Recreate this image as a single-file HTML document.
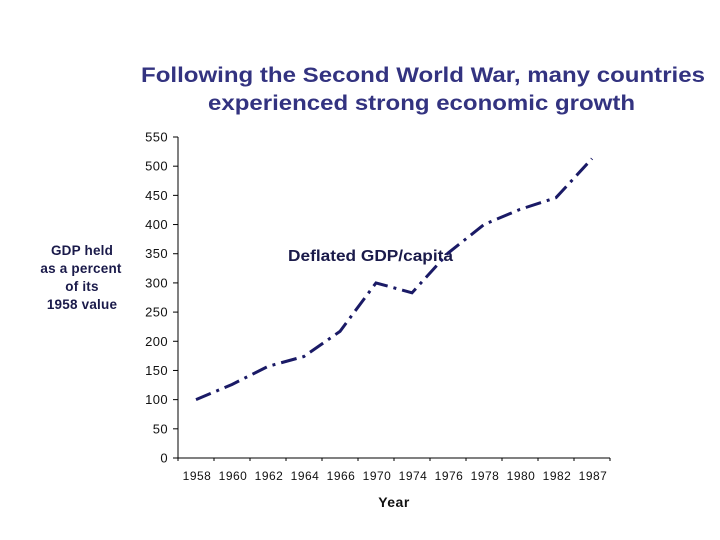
<!DOCTYPE html>
<html><head><meta charset="utf-8"><style>
html,body{margin:0;padding:0;background:#fff;}
svg{display:block;font-family:"Liberation Sans",Arial,sans-serif;}
</style></head><body>
<svg id="chart" width="720" height="540" viewBox="0 0 720 540">
<text x="141" y="82" textLength="564" lengthAdjust="spacingAndGlyphs" font-size="21" font-weight="bold" fill="#333380">Following the Second World War, many countries</text>
<text x="208" y="110" textLength="427" lengthAdjust="spacingAndGlyphs" font-size="21" font-weight="bold" fill="#333380">experienced strong economic growth</text>
<g fill="#1a1a4a" font-size="13.5" font-weight="bold" text-anchor="middle" letter-spacing="0.2">
<text x="82" y="255">GDP held</text><text x="81" y="273">as a percent</text><text x="82" y="291">of its</text><text x="82" y="309">1958 value</text>
</g>
<text x="394" y="507" text-anchor="middle" font-size="14" font-weight="bold" fill="#111" letter-spacing="0.5">Year</text>
<text x="288" y="261" textLength="165" lengthAdjust="spacingAndGlyphs" font-size="15.5" font-weight="bold" fill="#1a1a4a">Deflated GDP/capita</text>
<g id="axes"></g>
<g id="marks"></g>
</svg>
<script>
const categories = ["1958","1960","1962","1964","1966","1970","1974","1976","1978","1980","1982","1987"];
const gdpValues = [100,126,157,174,217,300,283,351,400,426,446,513];
const yTicks = [0,50,100,150,200,250,300,350,400,450,500,550];
const NS = "http://www.w3.org/2000/svg";
const x0 = 178, x1 = 610, yTop = 137, yBot = 458, yMax = 550;
const band = (x1 - x0) / categories.length;
function xScale(i){ return x0 + band * (i + 0.5); }
function yScale(v){ return yBot - (v / yMax) * (yBot - yTop); }
function mk(tag, attrs, parent){ const e = document.createElementNS(NS, tag); for (const k in attrs) e.setAttribute(k, attrs[k]); parent.appendChild(e); return e; }
const axes = document.getElementById('axes');
const marks = document.getElementById('marks');
const yAxis = mk('line', {x1:x0, y1:yTop, x2:x0, y2:yBot, stroke:'#000', 'stroke-width':1}, axes);


const xAxis = mk('line', {x1:x0, y1:yBot, x2:x1, y2:yBot, stroke:'#000', 'stroke-width':1}, axes);


yTicks.forEach(v => {
  const y = yScale(v);
  mk('line', {x1:x0-5, y1:y, x2:x0, y2:y, stroke:'#000'}, axes);
  const t = mk('text', {x:x0-10, y:y+4.5, 'text-anchor':'end', 'font-size':13, 'letter-spacing':0.4, fill:'#111'}, axes);
  t.textContent = v;
  
  
});
for (let i = 0; i <= categories.length; i++) {
  const x = x0 + band * i;
  mk('line', {x1:x, y1:yBot, x2:x, y2:yBot+3, stroke:'#000'}, axes);
}
categories.forEach((c, i) => {
  const t = mk('text', {x:xScale(i)+1, y:480, 'text-anchor':'middle', 'font-size':12, 'letter-spacing':0.5, fill:'#111'}, axes);
  t.textContent = c;
  
  
});
const pts = gdpValues.map((v, i) => xScale(i) + ',' + yScale(v)).join(' ');
const line = mk('polyline', {points:pts, fill:'none', stroke:'#1a1a66', 'stroke-width':3, 'stroke-dasharray':'16 6 3 6'}, marks);


</script>
</body></html>
